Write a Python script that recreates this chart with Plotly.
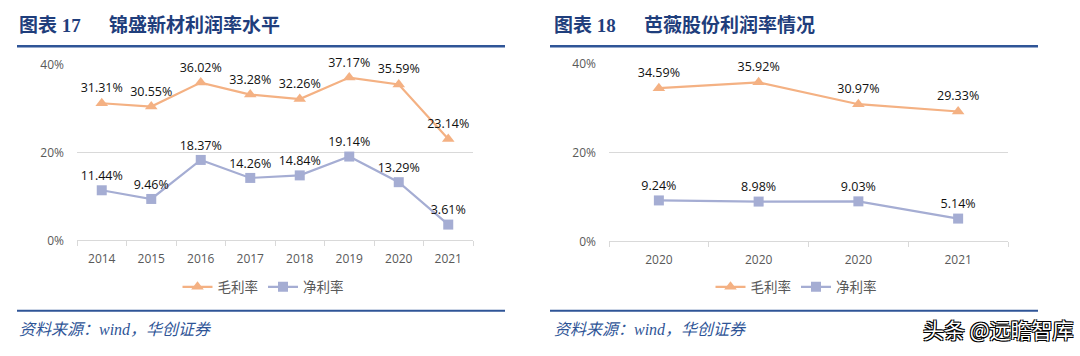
import plotly.graph_objects as go

# ---- data ----
years_a = ["2014", "2015", "2016", "2017", "2018", "2019", "2020", "2021"]
gross_a = [31.31, 30.55, 36.02, 33.28, 32.26, 37.17, 35.59, 23.14]
net_a = [11.44, 9.46, 18.37, 14.26, 14.84, 19.14, 13.29, 3.61]

years_b = ["2020", "2020", "2020", "2021"]
gross_b = [34.59, 35.92, 30.97, 29.33]
net_b = [9.24, 8.98, 9.03, 5.14]

y_ticks = [0, 20, 40]
y_tick_text = ["0%", "20%", "40%"]

title_a_num = "图表 17"
title_a = "锦盛新材利润率水平"
title_b_num = "图表 18"
title_b = "芭薇股份利润率情况"
source_text = "资料来源：wind，华创证券"
watermark = "头条 @远瞻智库"
series_names = ["毛利率", "净利率"]

ORANGE = "#F4B183"
BLUE = "#A5ADD3"
NAVY = "#2F5597"
TITLE_C = "#1F3E7C"
GRID = "#D9D9D9"
TICK_C = "#595959"

W, H = 1080, 356
def px(x):
    return x / W
def py(y):
    return (H - y) / H

fig = go.Figure()

def add_panel(xs_labels, gross, net, xa, ya, legend):
    idx = list(range(len(xs_labels)))
    fig.add_trace(go.Scatter(
        x=idx, y=gross, name=series_names[0], mode="lines+markers+text",
        line=dict(color=ORANGE, width=2.2),
        marker=dict(symbol="triangle-up", size=11, color=ORANGE),
        text=[f"{v:.2f}%" for v in gross], textposition="top center",
        textfont=dict(size=12.5, color="#111111", family="Open Sans, Noto Sans"),
        xaxis=xa, yaxis=ya, legend=legend, cliponaxis=False, hoverinfo="skip"))
    fig.add_trace(go.Scatter(
        x=idx, y=net, name=series_names[1], mode="lines+markers+text",
        line=dict(color=BLUE, width=2.2),
        marker=dict(symbol="square", size=10, color=BLUE),
        text=[f"{v:.2f}%" for v in net], textposition="top center",
        textfont=dict(size=12.5, color="#111111", family="Open Sans, Noto Sans"),
        xaxis=xa, yaxis=ya, legend=legend, cliponaxis=False, hoverinfo="skip"))

add_panel(years_a, gross_a, net_a, "x", "y", "legend")
add_panel(years_b, gross_b, net_b, "x2", "y2", "legend2")

def xaxis_cfg(labels, domain, anchor):
    n = len(labels)
    return dict(
        domain=domain, anchor=anchor, range=[-0.5, n - 0.5],
        tickmode="array", tickvals=list(range(n)), ticktext=labels,
        ticks="", showgrid=False, zeroline=False,
        showline=True, linecolor=GRID, linewidth=1.2,
        tickfont=dict(size=12, color=TICK_C, family="Open Sans, Noto Sans"),
        ticklabelstandoff=7,
        minor=dict(tickmode="linear", tick0=-0.5, dtick=1, ticks="outside",
                   ticklen=5, tickcolor=GRID, tickwidth=1, showgrid=False),
        fixedrange=True)

def yaxis_cfg(domain, anchor):
    return dict(
        domain=domain, anchor=anchor, range=[0, 40],
        tickmode="array", tickvals=y_ticks, ticktext=y_tick_text,
        showgrid=True, gridcolor=GRID, gridwidth=1.2, zeroline=False,
        showline=False, ticks="",
        tickfont=dict(size=12, color=TICK_C, family="Open Sans, Noto Sans"),
        ticklabelstandoff=12, fixedrange=True)

fig.update_layout(
    width=W, height=H, margin=dict(l=0, r=0, t=0, b=0),
    paper_bgcolor="white", plot_bgcolor="white",
    xaxis=xaxis_cfg(years_a, [px(77), px(473)], "y"),
    yaxis=yaxis_cfg([py(243), py(59)], "x"),
    xaxis2=xaxis_cfg(years_b, [px(609), px(1008)], "y2"),
    yaxis2=yaxis_cfg([py(244), py(58)], "x2"),
    legend=dict(orientation="h", x=px(263), y=py(292), xanchor="center", yanchor="middle",
                font=dict(size=13.5, color=TICK_C, family="Noto Sans CJK SC"),
                bgcolor="rgba(0,0,0,0)", itemwidth=30, traceorder="normal"),
    legend2=dict(orientation="h", x=px(796), y=py(292), xanchor="center", yanchor="middle",
                 font=dict(size=13.5, color=TICK_C, family="Noto Sans CJK SC"),
                 bgcolor="rgba(0,0,0,0)", itemwidth=30, traceorder="normal"),
    showlegend=True,
)

shapes = []
for x0, x1 in [(17, 505), (550, 1038)]:
    shapes.append(dict(type="line", xref="paper", yref="paper", x0=px(x0), x1=px(x1),
                       y0=py(39), y1=py(39), line=dict(color=NAVY, width=2.5)))
    shapes.append(dict(type="line", xref="paper", yref="paper", x0=px(x0), x1=px(x1),
                       y0=py(317), y1=py(317), line=dict(color=NAVY, width=2)))
fig.update_layout(shapes=shapes)

title_font = dict(size=19, color=TITLE_C, family="Liberation Serif, Noto Sans CJK SC", weight="bold")
src_font = dict(size=16, color=NAVY, family="Liberation Serif, Noto Sans CJK SC", style="italic")
ann = []
for x_num, x_t, tnum, t in [(17, 107, title_a_num, title_a), (552, 642, title_b_num, title_b)]:
    ann.append(dict(text=tnum, x=px(x_num), y=py(17), xref="paper", yref="paper",
                    xanchor="left", yanchor="middle", showarrow=False, font=title_font))
    ann.append(dict(text=t, x=px(x_t), y=py(17), xref="paper", yref="paper",
                    xanchor="left", yanchor="middle", showarrow=False, font=title_font))
for x0 in [17, 552]:
    ann.append(dict(text=source_text, x=px(x0), y=py(337), xref="paper", yref="paper",
                    xanchor="left", yanchor="middle", showarrow=False, font=src_font))
ann.append(dict(text=watermark, x=px(1076), y=py(336), xref="paper", yref="paper",
                xanchor="right", yanchor="middle", showarrow=False,
                font=dict(size=21, color="white", family="Noto Sans CJK SC",
                          shadow="1px 1px 0 #000, -1px -1px 0 #000, 1px -1px 0 #000, -1px 1px 0 #000")))
fig.update_layout(annotations=ann)

fig.write_html("out.html", config={"displayModeBar": False},
               post_script="document.body.style.margin='0';document.body.style.overflow='hidden';")
